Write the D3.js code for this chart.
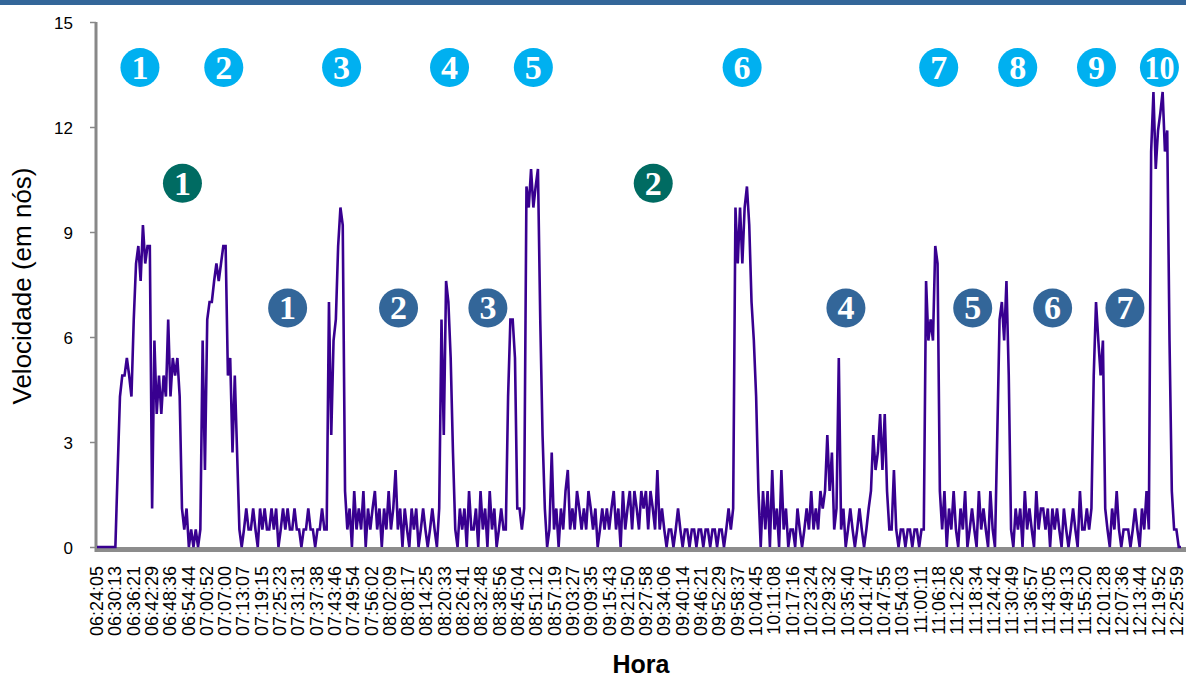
<!DOCTYPE html>
<html><head><meta charset="utf-8">
<script src="https://cdn.jsdelivr.net/npm/d3@7"></script>
<style>body{margin:0;background:#fff}svg{display:block}</style>
</head><body><svg id="c" width="1186" height="677"></svg>
<script>
const timeLabels = ["06:24:05","06:30:13","06:36:21","06:42:29","06:48:36","06:54:44","07:00:52","07:07:00","07:13:07","07:19:15","07:25:23","07:31:31","07:37:38","07:43:46","07:49:54","07:56:02","08:02:09","08:08:17","08:14:25","08:20:33","08:26:41","08:32:48","08:38:56","08:45:04","08:51:12","08:57:19","09:03:27","09:09:35","09:15:43","09:21:50","09:27:58","09:34:06","09:40:14","09:46:21","09:52:29","09:58:37","10:04:45","10:11:08","10:17:16","10:23:24","10:29:32","10:35:40","10:41:47","10:47:55","10:54:03","11:00:11","11:06:18","11:12:26","11:18:34","11:24:42","11:30:49","11:36:57","11:43:05","11:49:13","11:55:20","12:01:28","12:07:36","12:13:44","12:19:52","12:25:59"];
const yTicks = [0,3,6,9,12,15];
// speed in knots, one sample per ~46 s
const speed = [
0,0,0,0,0,0,0,0,0,
2.2,4.3,
4.9,4.9,5.4,4.9,4.3,
6.5,8.1,
8.6,7.6,9.2,8.1,8.6,8.6,1.1,
5.9,3.8,4.9,3.8,4.9,4.3,6.5,4.3,5.4,4.9,5.4,4.3,
1.1,
0.5,1.1,0,0.5,0,0.5,0,0.5,
5.9,2.2,6.5,7.0,7.0,7.6,8.1,7.6,8.1,8.6,8.6,4.9,5.4,2.7,4.9,2.7,
0.5,0,0.5,1.1,0.5,0.5,1.1,0.5,0,1.1,0.5,1.1,0.5,0.5,1.1,0.5,1.1,0,0.5,1.1,0.5,1.1,0.5,0.5,1.1,0.5,0.5,0,0.5,0.5,1.1,0.5,0.5,0,0.5,0.5,1.1,0.5,
0.5,7.0,3.2,5.9,6.5,8.6,9.7,9.2,1.6,
0.5,1.1,0,1.6,0.5,1.1,0.5,1.6,0,1.1,0.5,1.1,1.6,0.5,1.1,0,1.1,0.5,1.6,0.5,1.1,2.2,0.5,1.1,0,1.1,0.5,0,1.1,0.5,1.1,0,0.5,1.1,0.5,0,0.5,1.1,0.5,0,1.1,
6.5,3.2,7.6,7.0,5.4,2.7,0.5,
0,1.1,0.5,1.1,0,1.6,0.5,0.5,1.1,0,1.6,0.5,1.1,0,1.6,0.5,1.1,0,0.5,1.1,0.5,0.5,
4.3,6.5,6.5,5.4,1.1,
1.1,0.5,1.1,
10.3,9.7,10.8,9.7,10.3,10.8,6.5,3.2,1.1,
0,0.5,2.7,0.5,1.1,0,1.1,0.5,1.6,2.2,0.5,1.1,0.5,1.6,1.1,0.5,1.1,0.5,1.6,1.1,0.5,1.1,0,0.5,1.1,0.5,1.1,0.5,1.1,1.6,0.5,1.1,0,1.6,0.5,1.1,1.6,0.5,1.6,1.1,0.5,1.6,1.1,1.6,0.5,1.6,1.1,0.5,2.2,0.5,1.1,0.5,0,0.5,0.5,0,0.5,1.1,0.5,0,0.5,0.5,0,0.5,0.5,0,0.5,0.5,0,0.5,0.5,0,0.5,0.5,0,0.5,0.5,0,0.5,1.1,0.5,1.1,
9.7,8.1,9.7,8.1,9.7,10.3,9.2,7.0,5.9,4.3,1.6,
0,1.6,0.5,1.6,0,2.2,0.5,1.1,0,2.2,0.5,1.1,0,0.5,0.5,0,1.1,0.5,0,0.5,1.1,0.5,
1.6,0.5,1.1,0.5,1.6,1.1,1.6,3.2,1.6,2.7,0.5,1.1,5.4,0.5,
1.1,0,0.5,1.1,0.5,0,0.5,1.1,0.5,0,0.5,1.1,
1.6,3.2,2.2,2.7,3.8,2.2,3.8,1.6,0.5,
0.5,2.2,0.5,0,0.5,0.5,0,0.5,0.5,0,0.5,0.5,0,0.5,0.5,
7.6,5.9,6.5,5.9,8.6,8.1,1.6,
0.5,1.6,0,1.1,0.5,1.6,0.5,0,1.1,0.5,1.6,0,0.5,1.1,0.5,0,1.6,0.5,1.1,0.5,0,1.6,0.5,0,
3.2,6.5,7.0,5.9,7.6,4.9,0.5,
0,1.1,0.5,1.1,0,1.6,0.5,1.1,0.5,0,1.6,0.5,1.1,1.1,0.5,1.1,0,1.1,0.5,1.1,0.5,0,1.1,0.5,0,0.5,1.1,0.5,0,1.6,0.5,0.5,1.1,0.5,
1.1,4.9,7.0,5.9,4.9,5.9,1.1,
0.5,0,1.1,0.5,1.6,0.5,0,0.5,0.5,0.5,0,0.5,1.1,0.5,0,1.1,0.5,1.6,0.5,
11.3,13.0,10.8,11.9,12.4,13.0,11.3,11.9,5.9,1.6,
0.5,0.5,0,0
];
// annotation markers: [label, sample index, speed level]
const markersTop = [["1",18.7,13.7],["2",55.2,13.7],["3",106.5,13.7],["4",153.5,13.7],["5",190,13.7],["6",280.9,13.7],["7",366.5,13.7],["8",400.9,13.7],["9",435.2,13.7],["10",462.6,13.7]];
const markersTeal = [["1",37.2,10.39],["2",242.2,10.39]];
const markersSteel = [["1",83,6.83],["2",131.3,6.83],["3",170.2,6.83],["4",326.1,6.83],["5",381.3,6.83],["6",416.1,6.83],["7",447.6,6.83]];

const svg = d3.select("#c");
const x = d3.scaleLinear().domain([0, speed.length-1]).range([97, 1181]);
const y = d3.scaleLinear().domain([0, 15]).range([547, 22]);
const xl = d3.scalePoint().domain(timeLabels).range([97, 1177]);

// top bar
svg.append("rect").attr("x",0).attr("y",0).attr("width",1186).attr("height",5).attr("fill","#336699");

// floor band
svg.append("rect").attr("x",96).attr("y",547).attr("width",1090).attr("height",5).attr("fill","#8c8c8c");

// y axis
const ya = svg.append("g").attr("transform","translate(96,0)")
  .call(d3.axisLeft(y).tickValues(yTicks).tickSize(6).tickPadding(17).tickFormat(d3.format("d")));
ya.select(".domain").attr("stroke","#888").attr("stroke-width",3).attr("d","M0,22V552");
ya.selectAll(".tick line").attr("stroke","#888").attr("stroke-width",1.5);
ya.selectAll(".tick text").attr("font-family","Liberation Sans, Arial, sans-serif").attr("font-size",17).attr("fill","#000").attr("dy","0.36em");

// line
svg.append("path").datum(speed)
  .attr("d", d3.line().x((d,i)=>x(i)).y(d=>y(d)))
  .attr("fill","none").attr("stroke","#380090").attr("stroke-width",2.6).attr("stroke-linejoin","miter");

// x labels
svg.append("g").selectAll("text").data(timeLabels).join("text")
  .attr("transform", d=>`translate(${xl(d)},566) rotate(-90)`)
  .attr("text-anchor","end").attr("dominant-baseline","central")
  .attr("font-family","Liberation Sans, Arial, sans-serif").attr("font-size",18).attr("fill","#000")
  .text(d=>d);

// axis titles
svg.append("text").attr("x",641).attr("y",673).attr("text-anchor","middle")
  .attr("font-family","Liberation Sans, Arial, sans-serif").attr("font-size",25).attr("font-weight","bold").text("Hora");
svg.append("text").attr("transform","translate(31,286) rotate(-90)").attr("text-anchor","middle")
  .attr("font-family","Liberation Sans, Arial, sans-serif").attr("font-size",26).text("Velocidade (em nós)");

// markers
function drawMarkers(list, color){
  const g = svg.append("g").selectAll("g").data(list).join("g")
    .attr("transform", d=>`translate(${x(d[1])},${y(d[2])})`);
  g.append("circle").attr("r",19.5).attr("fill",color);
  g.append("text").attr("y",11.5).attr("text-anchor","middle")
    .attr("font-family","Liberation Serif, DejaVu Serif, serif").attr("font-weight","bold")
    .attr("font-size",34).attr("fill","#fff")
    .each(function(d){ if(d[0].length>1){ d3.select(this).attr("textLength",30).attr("lengthAdjust","spacingAndGlyphs"); } })
    .text(d=>d[0]);
}
drawMarkers(markersTop, "#00b0f0");
drawMarkers(markersTeal, "#006b62");
drawMarkers(markersSteel, "#336699");
</script></body></html>
